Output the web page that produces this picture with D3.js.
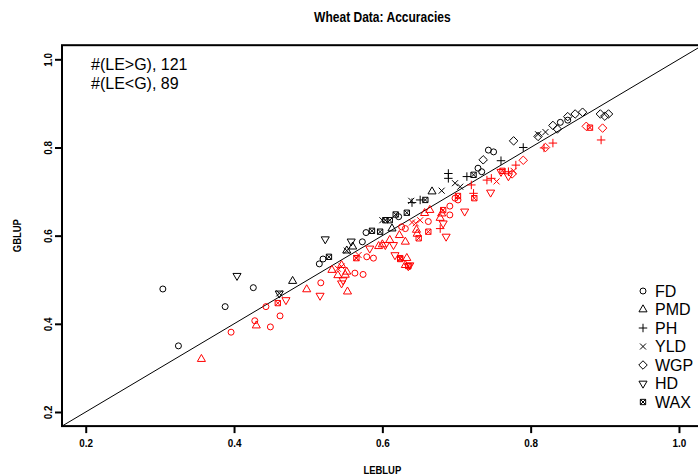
<!DOCTYPE html>
<html><head><meta charset="utf-8">
<script src="https://cdnjs.cloudflare.com/ajax/libs/d3/7.8.5/d3.min.js"></script>
<style>body{margin:0;background:#fff}svg{display:block}</style>
</head><body>
<svg id="chart" width="698" height="476"></svg>
<script>
const traits = ["FD","PMD","PH","YLD","WGP","HD","WAX"];
const xTicks = [0.2,0.4,0.6,0.8,1.0];
const yTicks = [0.2,0.4,0.6,0.8,1.0];
const annotation = ["#(LE>G), 121","#(LE<G), 89"];
const title = "Wheat Data: Accuracies";
const xLabel = "LEBLUP", yLabel = "GBLUP";

// [LEBLUP, GBLUP]; black = LE<G, red = LE>G
const FD_black = [[0.304,0.479],[0.325,0.350],[0.388,0.439],[0.426,0.482],[0.515,0.536],[0.520,0.547],[0.573,0.586],[0.578,0.607],[0.622,0.643],[0.729,0.753],[0.734,0.745],[0.743,0.794],[0.750,0.790],[0.840,0.857],[0.850,0.862]];
const FD_red = [[0.396,0.381],[0.428,0.407],[0.443,0.439],[0.449,0.393],[0.462,0.418],[0.517,0.493],[0.563,0.515],[0.574,0.512],[0.579,0.552],[0.588,0.549],[0.631,0.616],[0.626,0.620],[0.662,0.632],[0.691,0.647],[0.691,0.667],[0.698,0.685],[0.702,0.681]];
const PMD_black = [[0.479,0.497],[0.552,0.566],[0.613,0.616],[0.667,0.700],[0.560,0.575]];
const PMD_red = [[0.356,0.320],[0.430,0.396],[0.498,0.478],[0.532,0.522],[0.545,0.533],[0.550,0.511],[0.552,0.518],[0.553,0.473],[0.595,0.576],[0.623,0.601],[0.631,0.586],[0.633,0.549],[0.631,0.533],[0.646,0.613],[0.647,0.604],[0.657,0.651],[0.664,0.658],[0.678,0.640],[0.600,0.580],[0.540,0.510],[0.680,0.650],[0.610,0.590]];
const PH_black = [[0.689,0.741],[0.689,0.730],[0.651,0.681],[0.714,0.734],[0.760,0.770],[0.790,0.800],[0.640,0.675]];
const PH_red = [[0.720,0.715],[0.741,0.726],[0.747,0.730],[0.723,0.696],[0.678,0.616],[0.818,0.799],[0.830,0.810],[0.895,0.817],[0.780,0.760],[0.770,0.745]];
const YLD_black = [[0.461,0.469],[0.552,0.566],[0.639,0.679],[0.680,0.702],[0.698,0.719],[0.705,0.711],[0.600,0.635],[0.810,0.830],[0.820,0.835]];
const YLD_red = [[0.777,0.747],[0.754,0.723],[0.651,0.635],[0.640,0.630],[0.645,0.628],[0.565,0.549],[0.568,0.556],[0.540,0.525],[0.545,0.530]];
const WGP_black = [[0.736,0.772],[0.777,0.815],[0.836,0.842],[0.860,0.876],[0.870,0.880],[0.894,0.876],[0.900,0.871],[0.905,0.876],[0.850,0.870],[0.830,0.850],[0.810,0.825]];
const WGP_red = [[0.897,0.844],[0.875,0.848],[0.820,0.800],[0.775,0.740],[0.790,0.771]];
const HD_black = [[0.404,0.509],[0.461,0.469],[0.523,0.592],[0.558,0.587]];
const HD_red = [[0.470,0.454],[0.516,0.464],[0.545,0.492],[0.547,0.499],[0.583,0.571],[0.604,0.579],[0.615,0.579],[0.617,0.556],[0.635,0.531],[0.637,0.533],[0.682,0.628],[0.686,0.598],[0.711,0.655],[0.746,0.698],[0.770,0.735],[0.760,0.745]];
const WAX_black = [[0.528,0.552],[0.586,0.611],[0.597,0.609],[0.604,0.635],[0.610,0.635],[0.618,0.648],[0.633,0.652],[0.658,0.681],[0.723,0.738]];
const WAX_red = [[0.459,0.447],[0.565,0.549],[0.624,0.549],[0.624,0.547],[0.635,0.531],[0.649,0.594],[0.662,0.609],[0.682,0.658],[0.702,0.690],[0.724,0.685],[0.762,0.747],[0.880,0.845]];

const blackSets = [FD_black,PMD_black,PH_black,YLD_black,WGP_black,HD_black,WAX_black];
const redSets = [FD_red,PMD_red,PH_red,YLD_red,WGP_red,HD_red,WAX_red];

const svg = d3.select("#chart");
const L = 62, R = 702.7, T = 45.2, B = 426.1;
const x = d3.scaleLinear().domain([0.168,1.032]).range([L,R]);
const y = d3.scaleLinear().domain([0.168,1.032]).range([B,T]);
const r = 3;

function sym(k){
  const tc0=1.5551, tc1=1.3468, tc2=0.7776;
  switch(k){
    case 0: return `M${-r},0a${r},${r} 0 1,0 ${2*r},0a${r},${r} 0 1,0 ${-2*r},0Z`;
    case 1: return `M0,${-tc0*r}L${tc1*r},${tc2*r}L${-tc1*r},${tc2*r}Z`;
    case 2: {const s=1.414*r; return `M${-s},0H${s}M0,${-s}V${s}`;}
    case 3: return `M${-r},${-r}L${r},${r}M${-r},${r}L${r},${-r}`;
    case 4: {const s=1.414*r; return `M0,${-s}L${s},0L0,${s}L${-s},0Z`;}
    case 5: return `M0,${tc0*r}L${tc1*r},${-tc2*r}L${-tc1*r},${-tc2*r}Z`;
    case 6: {const s=0.886*r; return `M${-s},${-s}H${s}V${s}H${-s}ZM${-s},${-s}L${s},${s}M${-s},${s}L${s},${-s}`;}
  }
}

svg.append("defs").append("clipPath").attr("id","clip").append("rect")
  .attr("x",L).attr("y",T).attr("width",R-L).attr("height",B-T);

const font = "'Liberation Sans',Arial,sans-serif";

function boldText(tx,ty,txt,size,rot){
  const gg = svg.append("g").attr("transform",`translate(${tx},${ty})${rot?" rotate(-90)":""} scale(0.86,1)`);
  return gg.append("text").attr("text-anchor","middle").attr("font-family",font)
    .attr("font-weight","bold").attr("font-size",size).attr("fill","#000").text(txt);
}

boldText((L+R)/2,22,title,14,false);

// diagonal
svg.append("line").attr("clip-path","url(#clip)")
  .attr("x1",x(0.1)).attr("y1",y(0.1)).attr("x2",x(1.1)).attr("y2",y(1.1))
  .attr("stroke","#000").attr("stroke-width",1);

// points
const g = svg.append("g").attr("clip-path","url(#clip)");
[[blackSets,"#000"],[redSets,"#ff0000"]].forEach(([sets,col])=>{
  sets.forEach((arr,k)=>{
    g.selectAll(null).data(arr).enter().append("path")
      .attr("d",sym(k))
      .attr("transform",d=>`translate(${x(d[0])},${y(d[1])})`)
      .attr("fill","none").attr("stroke",col).attr("stroke-width",1);
  });
});

// box
svg.append("rect").attr("x",L).attr("y",T).attr("width",R-L).attr("height",B-T)
  .attr("fill","none").attr("stroke","#000").attr("stroke-width",2);

// axes
const xa = svg.append("g").attr("transform",`translate(0,${B})`)
  .call(d3.axisBottom(x).tickValues(xTicks).tickFormat(d3.format(".1f")).tickSize(7).tickPadding(6));
const ya = svg.append("g").attr("transform",`translate(${L},0)`)
  .call(d3.axisLeft(y).tickValues(yTicks).tickFormat(d3.format(".1f")).tickSize(7).tickPadding(6));
[xa,ya].forEach(a=>{
  a.select(".domain").remove();
  a.selectAll(".tick line").attr("stroke","#000").attr("stroke-width",2);
  a.selectAll("text").attr("font-family",font).attr("font-weight","bold").attr("font-size",11).attr("fill","#000");
});
xa.selectAll(".tick text").attr("transform","translate(0,0) scale(0.9,1)");
ya.selectAll(".tick text").attr("text-anchor","middle").attr("x",null).attr("dy",null)
  .attr("transform","translate(-14,0) rotate(-90) scale(0.9,1)").attr("y",0).attr("dy","0.35em");

boldText((L+R)/2,474,xLabel,11,false);
boldText(21,(T+B)/2,yLabel,11,true);

// annotation
annotation.forEach((t,i)=>{
  svg.append("text").attr("x",91).attr("y",70+i*19).attr("font-family",font)
    .attr("font-size",16).attr("fill","#000").text(t);
});

// legend
traits.forEach((t,k)=>{
  const cy = 291 + k*18.5;
  svg.append("path").attr("d",sym(k)).attr("transform",`translate(643,${cy})`)
    .attr("fill","none").attr("stroke","#000").attr("stroke-width",1);
  svg.append("text").attr("x",655).attr("y",cy).attr("dy","0.36em")
    .attr("font-family",font).attr("font-size",16).attr("fill","#000").text(t);
});
</script>
</body></html>
